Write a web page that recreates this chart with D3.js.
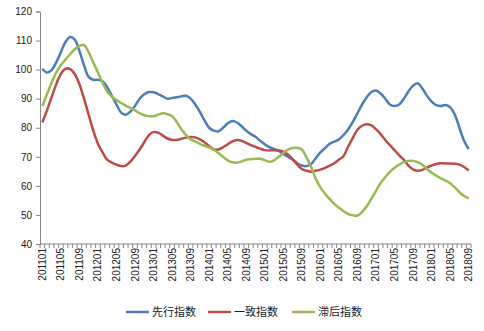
<!DOCTYPE html>
<html><head><meta charset="utf-8">
<script src="https://cdn.jsdelivr.net/npm/d3@7"></script>
<style>body{margin:0;background:#fff}svg{display:block}</style>
</head><body>
<svg id="c" width="484" height="331"></svg>
<script>
const months = ["201101","201102","201103","201104","201105","201106","201107","201108","201109","201110","201111","201112",
"201201","201202","201203","201204","201205","201206","201207","201208","201209","201210","201211","201212",
"201301","201302","201303","201304","201305","201306","201307","201308","201309","201310","201311","201312",
"201401","201402","201403","201404","201405","201406","201407","201408","201409","201410","201411","201412",
"201501","201502","201503","201504","201505","201506","201507","201508","201509","201510","201511","201512",
"201601","201602","201603","201604","201605","201606","201607","201608","201609","201610","201611","201612",
"201701","201702","201703","201704","201705","201706","201707","201708","201709","201710","201711","201712",
"201801","201802","201803","201804","201805","201806","201807","201808","201809"];
const xTickLabels = ["201101","201105","201109","201201","201205","201209","201301","201305","201309","201401","201405","201409",
"201501","201505","201509","201601","201605","201609","201701","201705","201709","201801","201805","201809"];
const yTicks = [40,50,60,70,80,90,100,110,120];
const seriesNames = ["先行指数","一致指数","滞后指数"];
const seriesColors = ["#4A7EBB","#BE4B48","#98B954"];
const leading = [100.3,99,99.8,102.5,106,109.5,111.2,110.3,106.5,101.5,97.5,96.5,96.5,96,94,91,
88,85.2,84.5,85.5,87.5,90,91.5,92.3,92.2,91.6,90.8,90,90.2,90.5,90.8,91,
90,88,85.5,82.5,80,79,78.8,80,81.5,82.3,81.8,80.5,79,77.8,
76.9,75.5,74.3,73.3,72.7,72,71,70,69,67.8,67,66.8,67.5,69.5,71.5,73,74.5,
75.2,76,77.5,79.5,82,85,88,90.5,92.3,92.8,91.8,90,88,87.5,88,
90,92.5,94.5,95.3,93.5,91,89,87.8,87.5,87.8,87,84.5,80,75.5,72.7];
const coincident = [81.8,86,90.5,95,98.5,100.3,100.2,98.5,95,90,84.5,79,74.5,71.5,69,68,
67.3,66.8,67,68.3,70.3,72.5,75,77.5,78.5,78.3,77.3,76.3,75.8,75.8,76.2,
76.6,76.8,76.7,76,75,73.7,72.5,72.5,73.3,74.3,75.3,75.8,75.5,74.8,74,73.4,
72.8,72.3,72.2,72.3,72.2,71.8,70.8,69.2,67.3,65.8,65.2,64.9,65.2,65.6,66.2,67,
67.8,69,70.3,73.5,76.5,79.3,80.7,81.2,80.8,79.5,77.8,75.8,74,72.3,70.5,
69,67,65.7,65.2,65.5,66.3,67,67.5,67.8,67.7,67.7,67.6,67.3,66.5,65.3];
const lagging = [87.5,91.5,95.5,99,101.5,103.5,105.3,107,108.2,108.4,106,102.5,99,95.5,92.5,90.7,
89.5,88.5,87.6,86.8,86,85,84.3,84,84,84.5,85,84.7,84,82,79.5,
77.5,76,75.3,74.5,73.8,73.3,72.5,71.3,70,68.8,68.1,68,68.4,69,69.2,69.3,
69.3,68.8,68.3,68.8,70,71.3,72.5,73,73.1,72.5,69.8,66.5,62.5,59.5,57.3,55.5,
53.8,52.5,51.3,50.3,49.9,49.8,51,53,55.5,58.3,61,63,64.8,66.2,67.3,
68.2,68.6,68.6,68.2,67.3,65.8,64.5,63.5,62.6,61.8,60.9,59.5,57.8,56.5,55.7];
const seriesData = [leading, coincident, lagging];

(function(){
const svg = d3.select("#c");
const L = 40, R = 471, T = 11.5, B = 244;
const x = d3.scaleBand().domain(months).range([L, R]).padding(0);
const y = d3.scaleLinear().domain([40,120]).range([B, T]);
const axisColor = "#868686";
const font = "'Liberation Sans', Arial, sans-serif";

const yAxis = svg.append("g").attr("transform", `translate(${L},0)`)
  .call(d3.axisLeft(y).tickValues(yTicks).tickSize(4).tickPadding(4));
yAxis.select(".domain").attr("stroke", axisColor);
yAxis.selectAll(".tick line").attr("stroke", axisColor);
yAxis.selectAll(".tick text").attr("font-family", font).attr("font-size", 10).attr("fill", "#222");

const xg = svg.append("g");
xg.append("line").attr("x1", L).attr("x2", R).attr("y1", B).attr("y2", B).attr("stroke", axisColor);
const bounds = months.map(m => x(m)).concat([R]);
xg.selectAll("line.tk").data(bounds).join("line").attr("class","tk")
  .attr("x1", d => d).attr("x2", d => d).attr("y1", B).attr("y2", B + 4).attr("stroke", axisColor);
xg.selectAll("text").data(xTickLabels).join("text")
  .attr("transform", d => `translate(${x(d) + x.bandwidth()/2 + 3.5},${B + 4}) rotate(-90)`)
  .attr("text-anchor", "end").attr("font-family", font).attr("font-size", 10).attr("fill", "#222")
  .text(d => d);

const line = d3.line().x((d,i) => x(months[i]) + x.bandwidth()/2).y(d => y(d)).curve(d3.curveCatmullRom.alpha(0.5));
seriesData.forEach((s, k) => {
  svg.append("path").datum(s).attr("d", line).attr("fill", "none")
    .attr("stroke", seriesColors[k]).attr("stroke-width", 2.5).attr("stroke-linejoin","round");
});

const lx = [126, 208, 292];
const lg = svg.append("g");
seriesNames.forEach((n, k) => {
  lg.append("line").attr("x1", lx[k]).attr("x2", lx[k] + 23).attr("y1", 312).attr("y2", 312)
    .attr("stroke", seriesColors[k]).attr("stroke-width", 2.5);
  lg.append("text").attr("x", lx[k] + 26).attr("y", 316).attr("font-family", "'Noto Sans CJK SC', sans-serif")
    .attr("font-size", 11).attr("fill", "#222").text(n);
});
})();
</script>
</body></html>
